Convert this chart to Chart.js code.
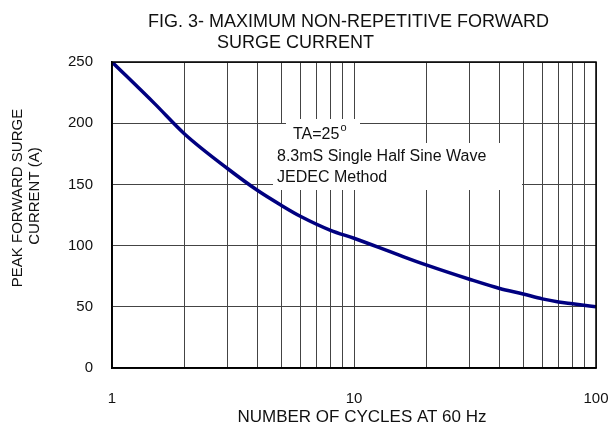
<!DOCTYPE html>
<html>
<head>
<meta charset="utf-8">
<script src="https://cdn.jsdelivr.net/npm/chart.js@4"></script>
<style>
  html, body { margin: 0; padding: 0; background: #fff; }
  #wrap { width: 608px; height: 430px; position: relative; }
</style>
</head>
<body>
<div id="wrap"><canvas id="c" width="608" height="430"></canvas></div>
<script>
// ---- data ----
const cycles = [1, 1.5, 2, 3, 4, 5, 6, 8, 10, 15, 20, 30, 40, 50, 60, 70, 80, 100];
const surgeCurrent = [250, 216, 191, 163, 145, 133, 124, 112.5, 106, 93, 84, 72.5, 65, 60.5, 56.5, 54, 52.5, 50];
const xGridValues = [1, 2, 3, 4, 5, 6, 7, 8, 9, 10, 20, 30, 40, 50, 60, 70, 80, 90, 100];
const xTickLabels = ['1', '10', '100'];
const yTickValues = [0, 50, 100, 150, 200, 250];
const titleLines = ['FIG. 3- MAXIMUM NON-REPETITIVE FORWARD', 'SURGE CURRENT'];
const yTitleLines = ['PEAK FORWARD SURGE', 'CURRENT (A)'];
const xTitle = 'NUMBER OF CYCLES AT 60 Hz';
const noteLines = ['TA=25', '8.3mS Single Half Sine Wave', 'JEDEC Method'];

const FONT = '"Liberation Sans", Arial, Helvetica, sans-serif';

const decor = {
  id: 'decor',
  beforeDatasetsDraw(chart) {
    const ctx = chart.ctx;
    ctx.save();
    ctx.fillStyle = '#fff';
    ctx.fillRect(286, 119, 74, 24);
    ctx.fillRect(273, 124, 14, 20);
    ctx.fillRect(273, 143, 249, 47);
    ctx.fillStyle = '#111';
    ctx.font = '16px ' + FONT;
    ctx.textBaseline = 'middle';
    ctx.textAlign = 'left';
    ctx.fillText(noteLines[0], 293, 135);
    const w = ctx.measureText(noteLines[0]).width;
    ctx.font = '11px ' + FONT;
    ctx.fillText('o', 293 + w + 1, 128);
    ctx.font = '16px ' + FONT;
    ctx.fillText(noteLines[1], 277, 157);
    ctx.fillText(noteLines[2], 277, 178);
    ctx.restore();
  },
  afterDraw(chart) {
    const ctx = chart.ctx;
    const a = chart.chartArea;
    ctx.save();
    ctx.strokeStyle = '#000';
    ctx.lineWidth = 1.5;
    ctx.strokeRect(a.left, a.top, a.right - a.left, a.bottom - a.top);
    ctx.fillStyle = '#111';
    ctx.font = '18px ' + FONT;
    ctx.textBaseline = 'alphabetic';
    ctx.textAlign = 'left';
    ctx.fillText(titleLines[0], 148, 27);
    ctx.fillText(titleLines[1], 217, 48);
    ctx.font = '17px ' + FONT;
    ctx.textAlign = 'center';
    ctx.textBaseline = 'middle';
    ctx.fillText(xTitle, 362, 417);
    ctx.font = '15px ' + FONT;
    ctx.save();
    ctx.translate(18, 198);
    ctx.rotate(-Math.PI / 2);
    ctx.fillText(yTitleLines[0], 0, 0);
    ctx.restore();
    ctx.save();
    ctx.translate(35, 196);
    ctx.rotate(-Math.PI / 2);
    ctx.fillText(yTitleLines[1], 0, 0);
    ctx.restore();
    ctx.restore();
  }
};

new Chart(document.getElementById('c'), {
  type: 'line',
  data: {
    datasets: [{
      data: cycles.map((x, i) => ({ x: x, y: surgeCurrent[i] })),
      borderColor: '#000080',
      borderWidth: 3.5,
      pointRadius: 0,
      fill: false,
      cubicInterpolationMode: 'monotone'
    }]
  },
  options: {
    responsive: false,
    animation: false,
    layout: { autoPadding: false, padding: { top: 62, right: 12, left: 0, bottom: 0 } },
    plugins: { legend: { display: false }, title: { display: false }, tooltip: { enabled: false } },
    scales: {
      x: {
        type: 'logarithmic',
        min: 1, max: 100,
        afterBuildTicks: s => { s.ticks = xGridValues.map(v => ({ value: v })); },
        afterFit: s => { s.height = 62; s.paddingLeft = 0; s.paddingRight = 0; },
        ticks: {
          autoSkip: false, maxRotation: 0, minRotation: 0, padding: 22,
          color: '#111', font: { size: 15, family: FONT },
          callback: v => xTickLabels.includes(String(v)) ? String(v) : ''
        },
        grid: { color: '#444', lineWidth: 1, drawTicks: false },
        border: { color: '#000', width: 1.5 }
      },
      y: {
        min: 0, max: 250,
        afterBuildTicks: s => { s.ticks = yTickValues.map(v => ({ value: v })); },
        afterFit: s => { s.width = 112; s.paddingTop = 0; s.paddingBottom = 0; },
        ticks: { padding: 19, color: '#111', font: { size: 15, family: FONT } },
        grid: { color: '#444', lineWidth: 1, drawTicks: false },
        border: { color: '#000', width: 1.5 }
      }
    }
  },
  plugins: [decor]
});
</script>
</body>
</html>
